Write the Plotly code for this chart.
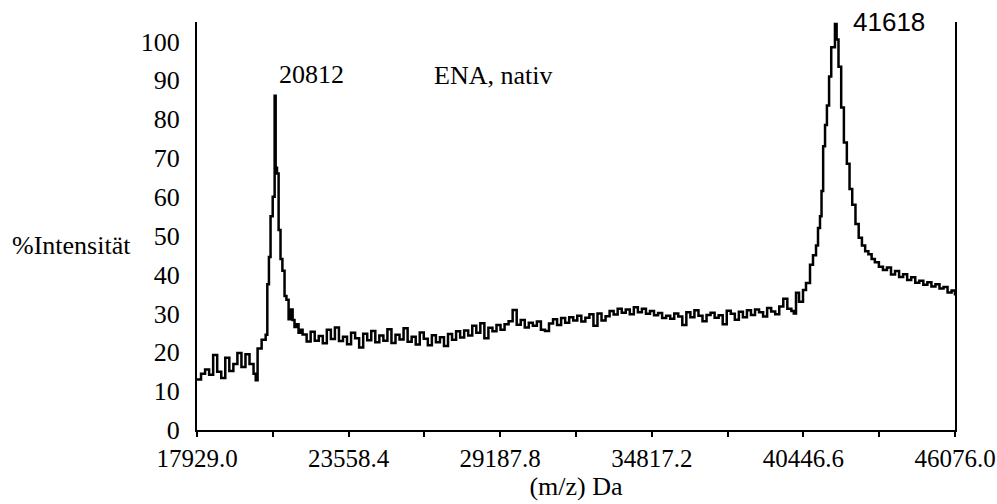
import plotly.graph_objects as go

# Axis labelling
x_tick_vals = [17929.0, 23558.4, 29187.8, 34817.2, 40446.6, 46076.0]
x_tick_text = ["17929.0", "23558.4", "29187.8", "34817.2", "40446.6", "46076.0"]
x_minor_step = 2814.7
y_tick_vals = [0, 10, 20, 30, 40, 50, 60, 70, 80, 90, 100]

# Baseline and the 20812 Da peak
mz_low = [17929, 18079, 18229, 18379, 18529, 18679, 18829, 18979, 19129, 19279,
          19429, 19579, 19729, 19879, 20029, 20110, 20179, 20329, 20479, 20540,
          20600, 20660, 20740, 20812, 20850, 20900, 20960, 21030, 21100, 21180,
          21250, 21330, 21400, 21480, 21550, 21630, 21700, 21775]
int_low = [13.0, 14.5, 15.6, 14.2, 19.3, 15.0, 13.4, 18.6, 15.2, 17.0,
           19.8, 16.2, 19.5, 17.0, 14.5, 12.8, 21.0, 23.2, 24.5, 37.5,
           44.5, 55.0, 60.0, 86.0, 67.5, 66.0, 51.5, 44.0, 41.0, 34.5,
           33.5, 28.5, 31.0, 28.3, 26.5, 27.2, 25.0, 25.8]

# Plateau between the two peaks
mz_mid = [21850, 22000, 22150, 22300, 22450, 22600, 22750, 22900, 23050, 23200,
          23350, 23500, 23650, 23800, 23950, 24100, 24250, 24400, 24550, 24700,
          24850, 25000, 25150, 25300, 25450, 25600, 25750, 25900, 26050, 26200,
          26350, 26500, 26650, 26800, 26950, 27100, 27250, 27400, 27550, 27700,
          27850, 28000, 28150, 28300, 28450, 28600, 28750, 28900, 29050, 29200,
          29350, 29500, 29650, 29800, 29950, 30100, 30250, 30400, 30550, 30700,
          30850, 31000, 31150, 31300, 31450, 31600, 31750, 31900, 32050, 32200,
          32350, 32500, 32650, 32800, 32950, 33100, 33250, 33400, 33550, 33700,
          33850, 34000, 34150, 34300, 34450, 34600, 34750, 34900, 35050, 35200,
          35350, 35500, 35650, 35800, 35950, 36100, 36250, 36400, 36550, 36700,
          36850, 37000, 37150, 37300, 37450, 37600, 37750, 37900, 38050, 38200,
          38350, 38500, 38650, 38800, 38950, 39100, 39250, 39400, 39550, 39700,
          39850]
int_mid = [24.6, 22.8, 25.3, 23.0, 24.2, 22.3, 25.8, 23.4, 26.4, 22.9,
           24.0, 22.1, 25.0, 23.6, 21.2, 24.8, 23.1, 25.5, 22.6, 24.3,
           23.0, 25.9, 22.4, 24.5, 23.3, 26.2, 22.7, 24.0, 22.0, 25.1,
           23.5, 21.8, 24.4, 22.6, 23.9, 21.6, 24.7, 23.2, 25.4, 23.8,
           25.6, 24.3, 26.8, 25.0, 27.5, 23.6, 26.3, 25.4, 27.0, 25.8,
           27.2, 28.0, 30.9, 27.1, 28.3, 26.4, 27.6, 26.8, 27.9, 25.8,
           25.5, 27.4, 28.5, 27.0, 28.8, 27.6, 29.0, 28.2, 29.4, 27.9,
           28.9, 29.8, 26.8, 30.0, 28.2, 29.3, 30.6, 29.7, 31.2, 30.2,
           31.0, 29.8, 31.6, 30.3, 31.2, 29.9, 30.6, 29.5, 30.1, 28.8,
           29.4, 28.6, 30.0, 29.2, 27.0, 30.3, 29.0, 30.8, 29.4, 28.0,
           29.6, 30.2, 28.9, 29.5, 27.2, 30.7, 29.9, 28.4, 30.4, 29.0,
           30.8, 29.6, 31.0, 30.3, 29.2, 31.4, 30.5, 29.8, 31.8, 33.8,
           31.2]

# The 41618 Da peak and its tail
mz_high = [40000, 40090, 40172, 40284, 40432, 40543, 40692, 40803, 40915, 40989,
           41063, 41120, 41180, 41250, 41320, 41400, 41480, 41618, 41680, 41750,
           41850, 41950, 42060, 42160, 42260, 42380, 42500, 42620, 42740, 42860,
           42980, 43100, 43250, 43400, 43550, 43700, 43850, 44000, 44150, 44300,
           44450, 44600, 44750, 44900, 45050, 45200, 45350, 45500, 45650, 45800,
           45950, 46076]
int_high = [30.6, 30.0, 35.3, 33.0, 36.0, 37.8, 42.5, 45.0, 47.5, 52.0,
            55.0, 61.5, 73.0, 78.5, 83.5, 91.0, 98.5, 104.5, 100.5, 93.5,
            83.0, 74.0, 68.5, 62.0, 58.0, 53.0, 49.5, 47.5, 46.0, 45.2,
            44.0, 43.2, 42.0, 41.2, 41.8, 40.0, 40.9, 39.4, 40.1, 38.6,
            39.3, 37.9, 38.4, 37.4, 38.0, 36.9, 37.5, 36.4, 36.8, 35.4,
            35.9, 34.6]

mz = mz_low + mz_mid + mz_high
intensity = int_low + int_mid + int_high

serif = "Liberation Serif, Times New Roman, serif"
sans = "Liberation Sans, Arial, sans-serif"
fs = 26

fig = go.Figure(
    go.Scatter(
        x=mz, y=intensity, mode="lines",
        line=dict(color="black", width=2.5, shape="hv"),
        hoverinfo="x+y", showlegend=False,
    )
)

fig.update_layout(
    width=997, height=504,
    margin=dict(l=197, r=42, t=22, b=74, autoexpand=False),
    paper_bgcolor="white", plot_bgcolor="white",
    font=dict(family=serif, size=fs, color="black"),
    xaxis=dict(
        range=[17929.0, 46076.0], automargin=False,
        showline=True, linecolor="black", linewidth=2,
        ticks="outside", ticklen=5, tickwidth=2, tickcolor="black",
        tickvals=x_tick_vals, ticktext=x_tick_text,
        tickfont=dict(family=serif, size=25),
        ticklabeloverflow="allow",
        minor=dict(ticks="outside", ticklen=5, tickwidth=2, tickcolor="black",
                   tick0=x_tick_vals[0], dtick=x_minor_step, showgrid=False),
        showgrid=False, zeroline=False,
        title=dict(text="(m/z) Da", font=dict(family=serif, size=fs), standoff=4),
    ),
    yaxis=dict(
        range=[0, 105], automargin=False,
        showline=True, linecolor="black", linewidth=2, mirror=True,
        ticks="", tickvals=y_tick_vals,
        tickfont=dict(family=serif, size=fs),
        ticklabelstandoff=10,
        showgrid=False, zeroline=False,
    ),
    annotations=[
        dict(text="20812", x=mz_low[int_low.index(max(int_low))], y=max(int_low),
             xref="x", yref="y", xanchor="left", yanchor="bottom",
             xshift=2, yshift=5, showarrow=False,
             font=dict(family=serif, size=fs)),
        dict(text="41618", x=mz_high[int_high.index(max(int_high))], y=max(int_high),
             xref="x", yref="y", xanchor="left", yanchor="middle",
             xshift=16, yshift=2, showarrow=False,
             font=dict(family=sans, size=fs)),
        dict(text="ENA, nativ", x=0.3905, y=0.87, xref="paper", yref="paper",
             xanchor="center", yanchor="middle", showarrow=False,
             font=dict(family=serif, size=fs)),
        dict(text="%Intensität", x=-0.165, y=0.453, xref="paper", yref="paper",
             xanchor="center", yanchor="middle", showarrow=False,
             font=dict(family=serif, size=fs)),
    ],
)

fig.write_html("out.html")
